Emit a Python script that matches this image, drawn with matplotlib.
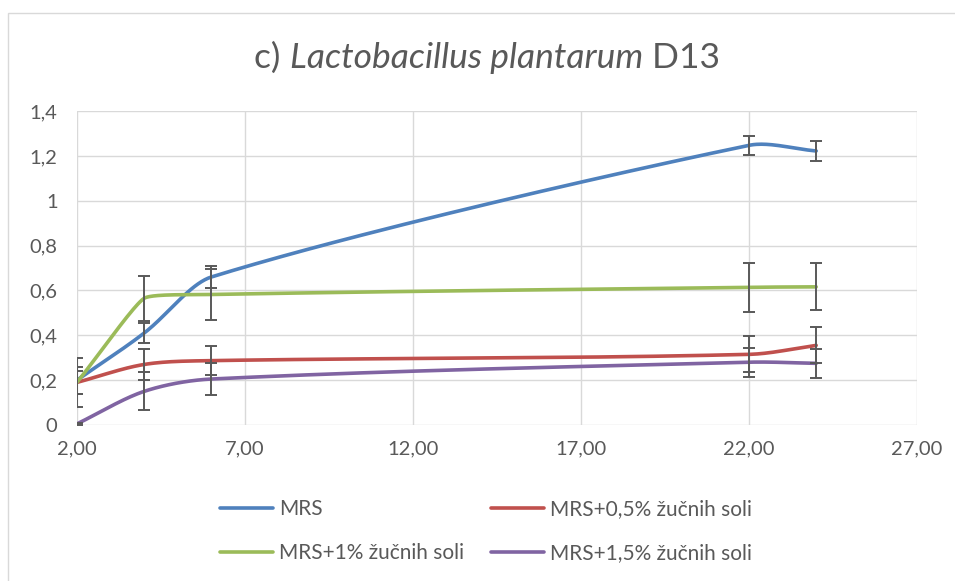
import numpy as np
import matplotlib.pyplot as plt
from matplotlib.patches import Rectangle
from matplotlib.ticker import FuncFormatter

plt.rcParams['font.family'] = ['Lato', 'DejaVu Sans']

# Data
time_h = [2, 4, 6, 22, 24]
labels = ['MRS', 'MRS+0,5% žučnih soli', 'MRS+1% žučnih soli', 'MRS+1,5% žučnih soli']
mrs = [0.20, 0.41, 0.66, 1.247, 1.222]
mrs_05 = [0.19, 0.27, 0.287, 0.315, 0.355]
mrs_1 = [0.19, 0.565, 0.582, 0.614, 0.616]
mrs_15 = [0.005, 0.15, 0.205, 0.28, 0.275]
err_mrs = [0.06, 0.045, 0.05, 0.043, 0.045]
err_05 = [0.05, 0.07, 0.065, 0.08, 0.08]
err_1 = [0.11, 0.10, 0.115, 0.108, 0.105]
err_15 = [0.005, 0.085, 0.07, 0.065, 0.065]
colors = ['#4F81BD', '#C0504D', '#9BBB59', '#8064A2']

fig = plt.figure(figsize=(9.55, 5.81), dpi=100)
ax = fig.add_axes([0.0806, 0.2685, 0.8796, 0.5404])
ax.set_xlim(2, 27)
ax.set_ylim(0, 1.4)

# chart border (right and bottom edges fall outside the image)
fig.patches.append(Rectangle((8 / 955, -0.1), 1.0, 1.1 - 13 / 581, transform=fig.transFigure,
                             fill=False, edgecolor='#d9d9d9', lw=1))


def smooth(xs, ys, n=40):
    # smoothed line like Excel: bezier segments built in pixel space,
    # handles shortened where the line turns sharply
    bb = ax.get_position()
    sx = bb.width * fig.get_figwidth() * 100 / (27 - 2)
    sy = bb.height * fig.get_figheight() * 100 / 1.4
    p = np.column_stack([np.array(xs) * sx, np.array(ys) * sy])
    m = len(p)
    d = np.diff(p, axis=0)
    seglen = np.linalg.norm(d, axis=1)
    u = d / seglen[:, None]
    tang = np.zeros_like(p)
    turn = np.ones(m)
    for i in range(m):
        a = p[max(i - 1, 0)]
        b = p[min(i + 1, m - 1)]
        v = b - a
        tang[i] = v / np.linalg.norm(v)
        if 0 < i < m - 1:
            turn[i] = max(np.dot(u[i - 1], u[i]), 0) ** 2.5
    t = np.linspace(0, 1, n)[:, None]
    out = []
    for i in range(m - 1):
        p0, p3 = p[i], p[i + 1]
        L = seglen[i] / 3
        c1 = p0 + tang[i] * L * turn[i]
        c2 = p3 - tang[i + 1] * L * turn[i + 1]
        seg = (1 - t) ** 3 * p0 + 3 * (1 - t) ** 2 * t * c1 + 3 * (1 - t) * t ** 2 * c2 + t ** 3 * p3
        out.append(seg)
    out = np.vstack(out)
    return out[:, 0] / sx, out[:, 1] / sy


series = [mrs, mrs_05, mrs_1, mrs_15]
errs = [err_mrs, err_05, err_1, err_15]
handles = []
for ys, e, c, lab in zip(series, errs, colors, labels):
    sx_, sy_ = smooth(time_h, ys)
    h, = ax.plot(sx_, sy_, color=c, lw=2.6, label=lab, solid_capstyle='round', zorder=3)
    handles.append(h)
    ax.errorbar(time_h, ys, yerr=e, fmt='none', ecolor='#595959', elinewidth=1.4,
                capsize=4, capthick=1.4, zorder=4)

ax.set_xticks(np.arange(2, 28, 5))
ax.set_yticks(np.arange(0, 1.41, 0.2))
ax.xaxis.set_major_formatter(FuncFormatter(lambda v, p: f'{v:.2f}'.replace('.', ',')))
ax.yaxis.set_major_formatter(FuncFormatter(lambda v, p: f'{v:g}'.replace('.', ',')))
ax.grid(True, color='#d9d9d9', lw=1)
ax.set_axisbelow(True)
for s in ax.spines.values():
    s.set_visible(False)
ax.tick_params(length=0, labelsize=14.5, colors='#595959')
ax.tick_params(axis='y', pad=14)
ax.tick_params(axis='x', pad=11)

# title: plain / italic / plain pieces
title_parts = [('c) ', 'normal'), ('Lactobacillus plantarum', 'italic'), (' D13', 'normal')]
renderer = fig.canvas.get_renderer()
texts = []
for s, st in title_parts:
    tt = fig.text(0, 1 - 68 / 581, s, fontsize=25.5, style=st, color='#595959', va='baseline')
    texts.append(tt)
widths = [tt.get_window_extent(renderer).width for tt in texts]
x0 = 487 - sum(widths) / 2
for tt, w in zip(texts, widths):
    tt.set_x(x0 / 955)
    x0 += w

order = [0, 2, 1, 3]
ax.legend([handles[i] for i in order], [labels[i] for i in order], ncol=2,
          loc='upper left', bbox_to_anchor=(0.1702, -0.237), frameon=False,
          borderpad=0, borderaxespad=0,
          fontsize=15, labelcolor='#595959', handlelength=2.55, columnspacing=1.3,
          labelspacing=1.15, handletextpad=0.29)

fig.savefig('out.png', dpi=100)
